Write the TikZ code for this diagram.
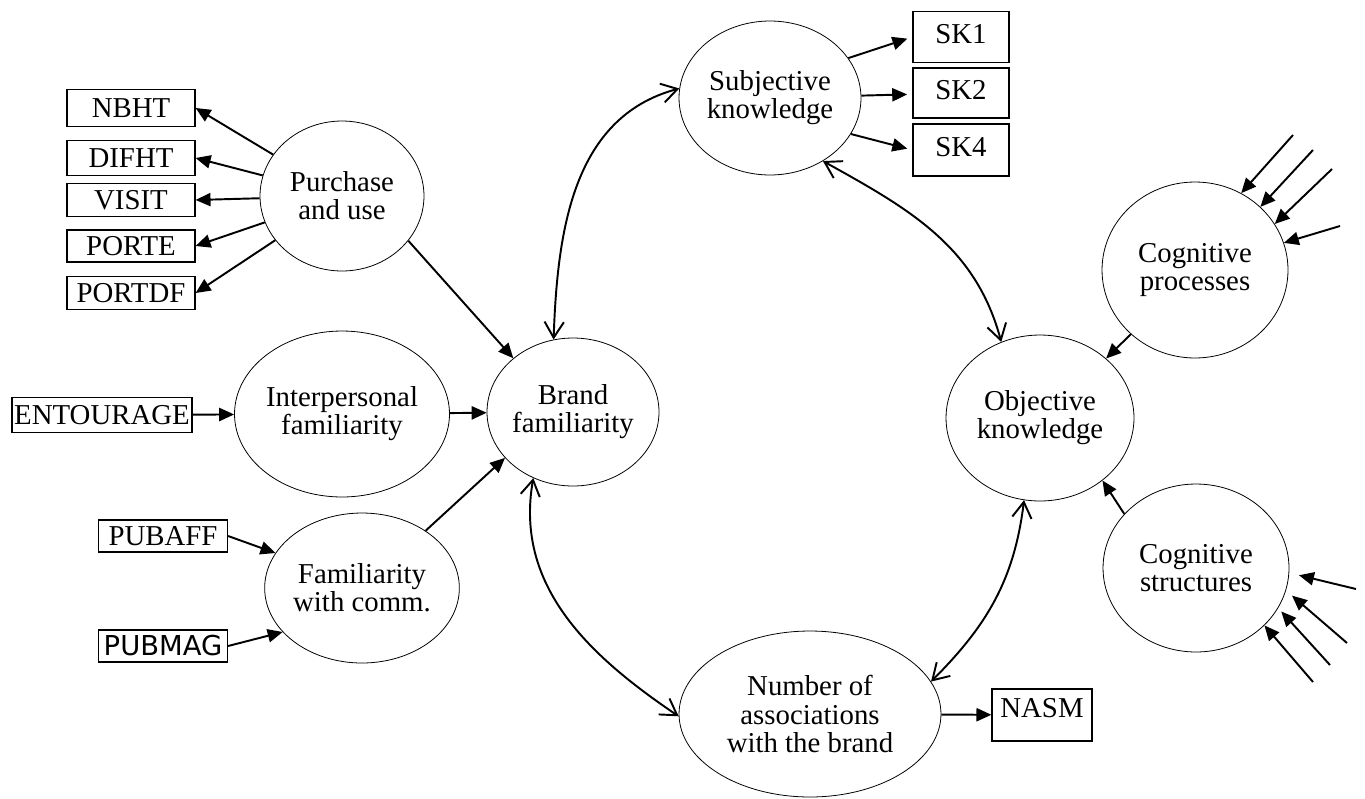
\documentclass[tikz,border=0pt]{standalone}
\usepackage{fontspec}
\setmainfont{Liberation Serif}
\newfontfamily\dejavu{DejaVu Sans}
\usepackage{tikz}
\usetikzlibrary{shapes.geometric,arrows.meta}

\begin{document}
\begin{tikzpicture}[x=0.02cm, y=0.02cm, font=\fontsize{16.4}{16}\selectfont,
	latent/.style={ellipse, draw, line width=0.45pt, inner sep=0pt, align=center},
	manifest/.style={rectangle, draw, line width=0.7pt, inner sep=0pt, minimum width=2.56cm, minimum height=0.68cm},
	load/.style={-{Triangle[length=8.5pt,width=7.5pt]}, line width=1.1pt},
	cov/.style={{Straight Barb[length=9pt,width=11pt]}-{Straight Barb[length=9pt,width=11pt]}, line width=1.1pt}]
		\useasboundingbox (0,0) rectangle (1365,-798);
		\node[latent, minimum width=3.28cm, minimum height=3cm] (pu) at (342,-196) {Purchase\\and use};
		\node[latent, minimum width=3.72cm, minimum height=3.32cm] (ip) at (342,-414) {Interpersonal\\familiarity};
		\node[latent, minimum width=3.4cm, minimum height=3cm] (fc) at (362,-588) {Familiarity\\with comm.};
		\node[latent, minimum width=3.36cm, minimum height=2.96cm] (bf) at (573,-412) {Brand\\familiarity};
		\node[latent, minimum width=3.64cm, minimum height=3.08cm] (sk) at (770,-98) {Subjective\\knowledge};
		\node[latent, minimum width=3.76cm, minimum height=3.32cm] (ok) at (1040,-418) {Objective\\knowledge};
		\node[latent, minimum width=3.72cm, minimum height=3.52cm] (cp) at (1195,-270) {Cognitive\\processes};
		\node[latent, minimum width=3.72cm, minimum height=3.36cm] (cs) at (1196,-568) {Cognitive\\structures};
		\node[latent, minimum width=5.24cm, minimum height=3.32cm] (na) at (810,-714) {Number of\\associations\\with the brand};
		\node[manifest, minimum height=0.74cm] (nbht) at (131,-108) {NBHT};
		\node[manifest, minimum height=0.7cm] (difht) at (131,-158) {DIFHT};
		\node[manifest, minimum height=0.66cm] (visit) at (131,-200) {VISIT};
		\node[manifest, minimum height=0.64cm] (porte) at (131,-246) {PORTE};
		\node[manifest, minimum height=0.66cm] (portdf) at (131,-293) {PORTDF};
		\node[manifest, minimum width=3.6cm, minimum height=0.7cm] (ent) at (102,-415) {ENTOURAGE};
		\node[manifest, minimum width=2.58cm, minimum height=0.64cm] (pubaff) at (163,-536) {PUBAFF};
		\node[manifest, minimum width=2.58cm, minimum height=0.64cm] (pubmag) at (163,-646) {\dejavu\fontsize{15.6}{15}\selectfont PUBMAG};
		\node[manifest, minimum width=1.92cm, minimum height=1.02cm, text depth=3.4pt] (sk1) at (961,-37) {SK1};
		\node[manifest, minimum width=1.92cm, minimum height=1cm, text depth=3.4pt] (sk2) at (961,-93) {SK2};
		\node[manifest, minimum width=1.92cm, minimum height=1.04cm, text depth=3.4pt] (sk4) at (961,-150) {SK4};
		\node[manifest, minimum width=2cm, minimum height=1.04cm, text depth=8pt] (nasm) at (1042,-715) {NASM};
		\coordinate (p1) at (1293,-135);
		\coordinate (p2) at (1313,-150);
		\coordinate (p3) at (1332,-169);
		\coordinate (p4) at (1340,-226);
		\coordinate (s1) at (1356,-589);
		\coordinate (s2) at (1347,-643);
		\coordinate (s3) at (1330,-665);
		\coordinate (s4) at (1313,-682);
		\draw[load] (pu) -- (nbht.east);
		\draw[load] (pu) -- (difht.east);
		\draw[load] (pu) -- (visit.east);
		\draw[load] (pu) -- (porte.east);
		\draw[load] (pu) -- (portdf.east);
		\draw[load] (pu.326) -- (bf.138);
		\draw[load] (ent) -- (ip);
		\draw[load] (ip) -- (bf);
		\draw[load] (pubaff.east) -- (fc.158);
		\draw[load] (pubmag.east) -- (fc.209);
		\draw[load] (fc.42) -- (bf.214);
		\draw[load, shorten >=3pt] (sk.27) -- (sk1.west);
		\draw[load, shorten >=3pt] (sk) -- (sk2);
		\draw[load, shorten >=3pt] (sk.336) -- (sk4.west);
		\draw[load] (na) -- (nasm);
		\draw[load] (cp.225) -- (ok.42);
		\draw[load] (cs.143) -- (ok.315);
		\draw[load] (p1) -- (cp.59);
		\draw[load] (p2) -- (cp.44);
		\draw[load] (p3) -- (cp.30);
		\draw[load] (p4) -- (cp.17);
		\draw[load, shorten >=5.7pt] (s1) -- (cs.-3);
		\draw[load, shorten >=4.5pt] (s2) -- (cs.-14);
		\draw[load, shorten >=2.6pt] (s3) -- (cs.-26);
		\draw[load] (s4) -- (cs.-40);
		\draw[cov] (bf.105) to[out=88, in=195] (sk.174);
		\draw[cov] (sk.310) to[out=-29, in=105] (ok.117);
		\draw[cov] (bf.239) to[out=260, in=146] (na.181);
		\draw[cov] (ok.259) to[out=263, in=45] (na.15);
\end{tikzpicture}
\end{document}
